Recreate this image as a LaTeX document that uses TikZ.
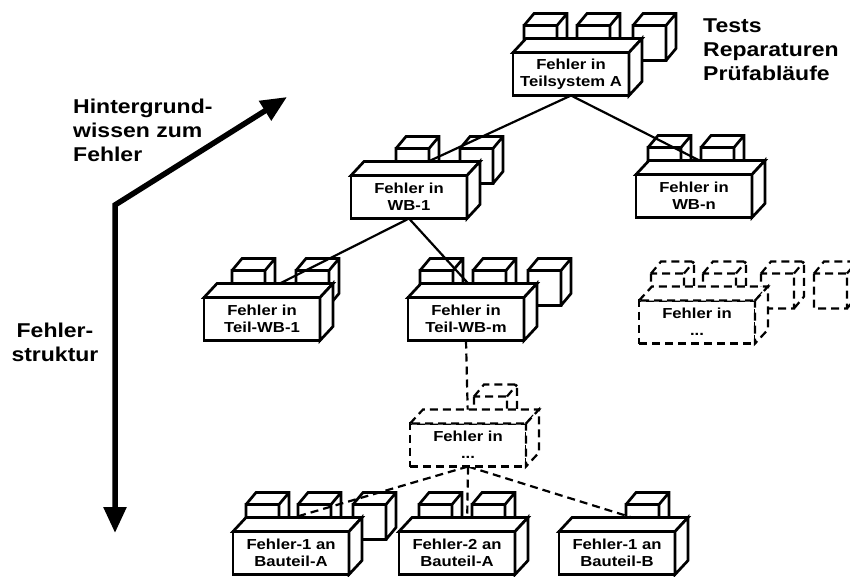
\documentclass[tikz,border=0pt]{standalone}
\usepackage{fontspec}
\setmainfont{Liberation Sans}[FakeStretch=1.15]
\usetikzlibrary{calc,arrows.meta,backgrounds}
\def\subcubes[#1]#2#3{\foreach \dx in {#3} {\coordinate (c) at ($(#2.north west)+(\dx,-27)$);
	\draw[#1] (c) rectangle ++(33,35) (c) -- ++(10,-12) -- ++(33,0) -- ++(0,35) -- ++(-10,12) (c) ++(33,0) -- ++(10,-12);}}
\def\boxfaces[#1]#2{\draw[#1] (#2.north west) -- ++(13,-14) -- ($(#2.north east)+(13,-14)$) -- (#2.north east) -- cycle;
	\draw[#1] (#2.north east) -- ++(13,-14) -- ($(#2.south east)+(13,-14)$) -- (#2.south east) -- cycle;}
\tikzset{
	errbox/.style={draw, line width=2.7pt, fill=white, minimum width=116pt, minimum height=43pt, inner sep=0pt, outer sep=0pt, align=center, font=\fontsize{14.5}{17}\selectfont\bfseries},
	dashbox/.style={errbox, line width=2.2pt, dash pattern=on 8pt off 5pt},
	face/.style={draw, line width=2.7pt, fill=white},
	dashface/.style={face, line width=2.2pt, dash pattern=on 8pt off 5pt},
	link/.style={line width=2.2pt},
	dashlink/.style={link, dash pattern=on 8pt off 5pt},
	sidetext/.style={inner sep=0pt, font=\fontsize{20}{24}\selectfont\bfseries}
}
\begin{document}
\begin{tikzpicture}[x=1pt,y=-1pt]
		%%%%% START %%%%%
		\useasboundingbox (0,0) rectangle (850,576);
		
		\node[errbox] (top) at (571,74) {Fehler in\\Teilsystem A};
		\node[errbox] (wb1) at (409,197) {Fehler in\\WB-1};
		\node[errbox] (wbn) at (694,196) {Fehler in\\WB-n};
		\node[errbox] (twb1) at (262,319) {Fehler in\\Teil-WB-1};
		\node[errbox] (twbm) at (466,319) {Fehler in\\Teil-WB-m};
		\node[dashbox] (dmid) at (468,445) {Fehler in\\...};
		\node[dashbox] (dright) at (697,322) {Fehler in\\...};
		\node[errbox] (bt1) at (291,553) {Fehler-1 an\\Bauteil-A};
		\node[errbox] (bt2) at (457,553) {Fehler-2 an\\Bauteil-A};
		\node[errbox] (bt3) at (617,553) {Fehler-1 an\\Bauteil-B};
		
		\foreach \b in {top,wb1,wbn,twb1,twbm,bt1,bt2,bt3} {\boxfaces[face]{\b}}
		\boxfaces[dashface]{dmid}
		\boxfaces[dashface]{dright}
		
		\begin{scope}[on background layer]
			\subcubes[face]{top}{11,64,120}
			\subcubes[face]{wb1}{45,109}
			\subcubes[face]{wbn}{12,65}
			\subcubes[face]{twb1}{28,92}
			\subcubes[face]{twbm}{12,65,120}
			\subcubes[dashface]{dmid}{64}
			\subcubes[dashface]{dright}{12,64,122,175}
			\subcubes[face]{bt1}{13,65,120}
			\subcubes[face]{bt2}{20,73}
			\subcubes[face]{bt3}{67}
			
			\draw[link] (top.south) -- ($(wb1.north)+(-11,0)$);
			\draw[link] (top.south) -- ($(wbn.north)+(33,0)$);
			\draw[link] (wb1.south) -- ($(twb1.north)+(-10,0)$);
			\draw[link] (wb1.south) -- ($(twbm.north)+(15,0)$);
			\draw[dashlink] (twbm.south) -- (dmid.north);
			\draw[dashlink] (dmid.south) -- ($(bt1.north)+(-45,0)$);
			\draw[dashlink] (dmid.south) -- ($(bt2.north)+(10,0)$);
			\draw[dashlink] (dmid.south) -- ($(bt3.north)+(60,0)$);
		\end{scope}
		
		\coordinate (knowtip) at (287,97);
		\coordinate (bend) at (115,205);
		\coordinate (structtip) at (115,533);
		\draw[line width=5.5pt, {Triangle[length=26pt,width=22pt]}-{Triangle[length=26pt,width=22pt]}] (knowtip) -- (bend) -- (structtip);
		
		\node[sidetext, anchor=north west, align=left] (know) at (73,99) {Hintergrund-\\wissen zum\\Fehler};
		\node[sidetext, anchor=north, align=center] (struct) at (55,323) {Fehler-\\struktur};
		\node[sidetext, anchor=north west, align=left] (tasks) at (703,19) {Tests\\Reparaturen\\Prüfabläufe};
		
		%%%%% END %%%%%
\end{tikzpicture}
\end{document}
